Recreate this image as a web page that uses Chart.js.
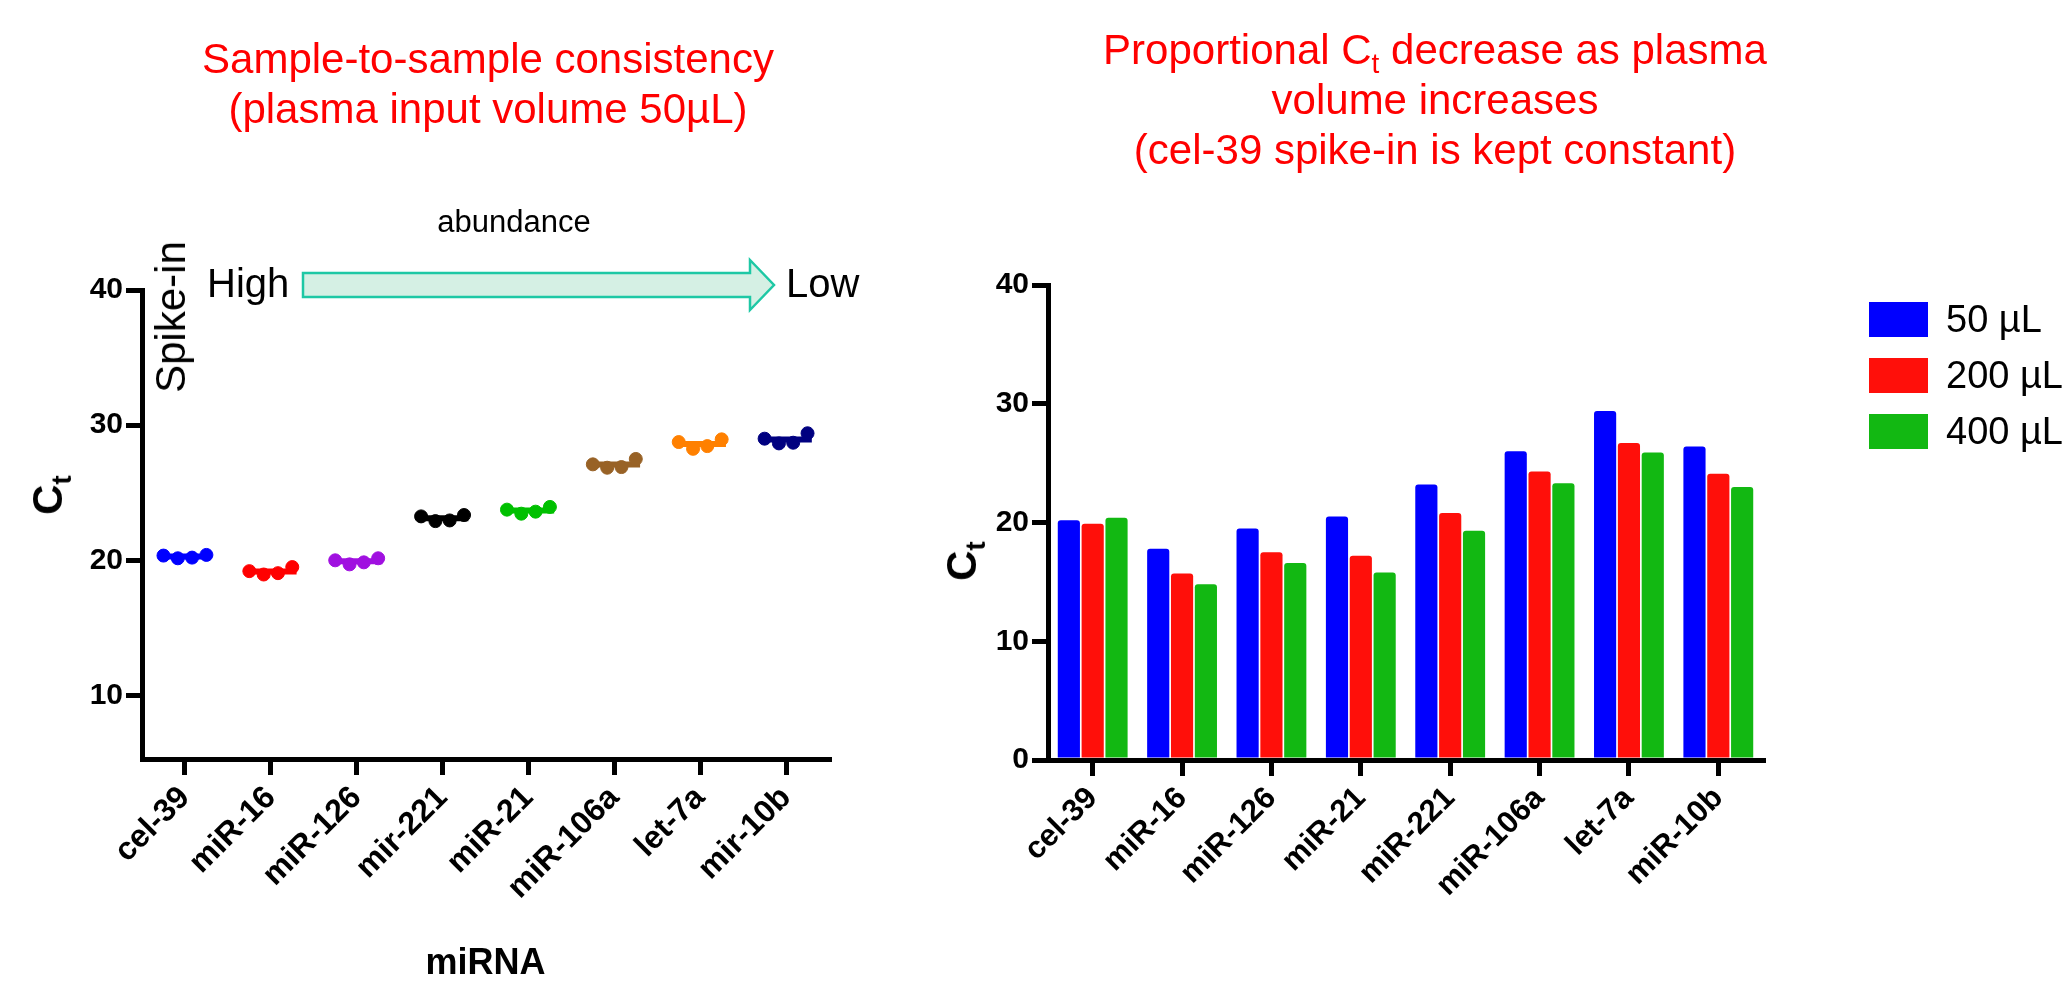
<!DOCTYPE html>
<html>
<head>
<meta charset="utf-8">
<script src="https://cdn.jsdelivr.net/npm/chart.js@4.4.0/dist/chart.umd.min.js"></script>
<style>
  html, body { margin: 0; padding: 0; background: #fff; overflow: hidden; }
  body { width: 2067px; height: 986px; position: relative; font-family: "Liberation Sans", Arial, sans-serif; color: #000; }
  .abs { position: absolute; white-space: nowrap; }
  #leftChart { position: absolute; left: 0; top: 0; }
  #rightChart { position: absolute; left: 900px; top: 0; }
  .title { color: #ff0000; font-size: 42px; line-height: 50px; text-align: center; transform: translateX(-50%); }
  .title sub { font-size: 28px; line-height: 0; }
  .ct { font-weight: bold; font-size: 42px; line-height: 42px; transform: translate(-50%, -50%) rotate(-90deg); }
  .ct sub { font-size: 28px; line-height: 0; }
  .big { font-size: 40px; line-height: 40px; }
  .legend-item { position: absolute; left: 1869px; height: 35px; }
  .legend-item .box { position: absolute; left: 0; top: 0; width: 59px; height: 35px; }
  .legend-item .txt { position: absolute; left: 77px; top: -2px; font-size: 38px; line-height: 38px; white-space: nowrap; }
</style>
</head>
<body>
<canvas id="leftChart" width="900" height="986"></canvas>
<canvas id="rightChart" width="1167" height="986"></canvas>

<div class="abs title" style="left:488px; top:34px;">Sample-to-sample consistency<br>(plasma input volume 50µL)</div>
<div class="abs title" style="left:1435px; top:25px;">Proportional C<sub>t</sub> decrease as plasma<br>volume increases<br>(cel-39 spike-in is kept constant)</div>

<div class="abs" style="left:514px; top:205px; font-size:31px; line-height:34px; transform:translateX(-50%);">abundance</div>
<div class="abs big" style="left:207px; top:263px;">High</div>
<div class="abs big" style="left:786px; top:263px;">Low</div>
<svg class="abs" style="left:290px; top:250px;" width="500" height="70">
  <polygon points="13,23 460,23 460,10 484,35 460,60 460,47 13,47" fill="#d5f0e4" stroke="#1ec8a5" stroke-width="2.5"/>
</svg>
<div class="abs" style="left:171px; top:317px; font-size:42px; line-height:42px; transform:translate(-50%,-50%) rotate(-90deg);">Spike-in</div>

<div class="abs ct" style="left:48px; top:495px;">C<sub>t</sub></div>
<div class="abs ct" style="left:962px; top:561px;">C<sub>t</sub></div>

<div id="legend"></div>

<script>
// --- DATA ---
// left panel: 4 replicate samples per miRNA (plasma 50 µL)
const leftCategories = ['cel-39', 'miR-16', 'miR-126', 'mir-221', 'miR-21', 'miR-106a', 'let-7a', 'mir-10b'];
const rep1 = [20.35, 19.2, 20.0, 23.25, 23.75, 27.1, 28.75, 29.0];
const rep2 = [20.15, 18.95, 19.7, 22.9, 23.45, 26.85, 28.25, 28.65];
const rep3 = [20.2, 19.05, 19.85, 22.95, 23.6, 26.9, 28.45, 28.7];
const rep4 = [20.4, 19.5, 20.15, 23.35, 23.95, 27.5, 28.95, 29.4];
const leftTicks = [10, 20, 30, 40];

// right panel: Ct per plasma volume
const rightCategories = ['cel-39', 'miR-16', 'miR-126', 'miR-21', 'miR-221', 'miR-106a', 'let-7a', 'miR-10b'];
const volumeLabels = ['50 µL', '200 µL', '400 µL'];
const vol50 = [20.2, 17.8, 19.5, 20.5, 23.2, 26.0, 29.4, 26.4];
const vol200 = [19.9, 15.7, 17.5, 17.2, 20.8, 24.3, 26.7, 24.1];
const vol400 = [20.4, 14.8, 16.6, 15.8, 19.3, 23.3, 25.9, 23.0];
const rightTicks = [0, 10, 20, 30, 40];

// --- STYLE ---
const leftColors = ['#0000ff', '#ff0000', '#a010e0', '#000000', '#00c000', '#986226', '#ff8000', '#000080'];
const volColors = ['#0000ff', '#ff0f0a', '#12b812'];
const jitter = [-0.25, -0.083, 0.083, 0.25];

Chart.defaults.font.family = '"Liberation Sans", Arial, sans-serif';
Chart.defaults.color = '#000';

function axisGrid() {
    return { drawOnChartArea: false, drawTicks: true, tickLength: 16, lineWidth: 5, color: '#000', offset: false };
}
const axisBorder = { display: true, color: '#000', width: 5 };

// --- LEFT: scatter with mean line ---
const reps = [rep1, rep2, rep3, rep4];
const leftDatasets = [];
leftCategories.forEach((name, i) => {
    const vals = reps.map(r => r[i]);
    const mean = vals.reduce((a, b) => a + b, 0) / vals.length;
    leftDatasets.push({
        type: 'line', label: name + ' mean',
        data: [{ x: i - 0.27, y: mean }, { x: i + 0.3, y: mean }],
        borderColor: leftColors[i], borderWidth: 6, pointRadius: 0, order: 2
    });
    leftDatasets.push({
        label: name,
        data: vals.map((v, j) => ({ x: i + jitter[j], y: v })),
        backgroundColor: leftColors[i], borderColor: leftColors[i],
        pointRadius: 6.5, pointHoverRadius: 6.5, order: 1
    });
});

new Chart(document.getElementById('leftChart'), {
    type: 'scatter',
    data: { datasets: leftDatasets },
    options: {
        responsive: false, animation: false,
        layout: { padding: { left: 0, top: 290, right: 71, bottom: 0 } },
        plugins: { legend: { display: false }, tooltip: { enabled: false } },
        scales: {
            x: {
                type: 'linear', min: -0.5, max: 7.5,
                afterBuildTicks: s => { s.ticks = leftCategories.map((c, i) => ({ value: i })); },
                afterFit: s => { s.height = 227; },
                grid: axisGrid(), border: axisBorder,
                ticks: { autoSkip: false, minRotation: 45, maxRotation: 45, padding: 4,
                         font: { size: 32, weight: 'bold' }, callback: v => leftCategories[v] },
                title: { display: true, text: 'miRNA', font: { size: 36, weight: 'bold' }, padding: { top: 0, bottom: 0 } }
            },
            y: {
                min: 5.3, max: 40,
                afterBuildTicks: s => { s.ticks = leftTicks.map(v => ({ value: v })); },
                afterFit: s => { s.width = 142; },
                grid: axisGrid(), border: axisBorder,
                ticks: { padding: 3, font: { size: 30, weight: 'bold' } }
            }
        }
    }
});

// --- RIGHT: grouped bars ---
const volData = [vol50, vol200, vol400];
const rightChart = new Chart(document.getElementById('rightChart'), {
    type: 'bar',
    data: {
        labels: rightCategories,
        datasets: volData.map((d, k) => ({
            label: volumeLabels[k], data: d,
            backgroundColor: volColors[k], borderWidth: 0,
            borderRadius: { topLeft: 3, topRight: 3 }, borderSkipped: 'bottom',
            categoryPercentage: 0.8, barPercentage: 0.93
        }))
    },
    options: {
        responsive: false, animation: false,
        layout: { padding: { left: 0, top: 285, right: 304, bottom: 0 } },
        plugins: { legend: { display: false }, tooltip: { enabled: false } },
        scales: {
            x: {
                afterFit: s => { s.height = 226; },
                grid: axisGrid(), border: axisBorder,
                ticks: { autoSkip: false, minRotation: 45, maxRotation: 45, padding: 4,
                         font: { size: 31, weight: 'bold' } }
            },
            y: {
                min: 0, max: 40,
                afterBuildTicks: s => { s.ticks = rightTicks.map(v => ({ value: v })); },
                afterFit: s => { s.width = 148; },
                grid: axisGrid(), border: axisBorder,
                ticks: { padding: 3, font: { size: 30, weight: 'bold' } }
            }
        }
    }
});

// legend built from the bar datasets
const legendEl = document.getElementById('legend');
rightChart.data.datasets.forEach((ds, k) => {
    const item = document.createElement('div');
    item.className = 'legend-item';
    item.style.top = (302 + k * 56) + 'px';
    item.innerHTML = '<div class="box" style="background:' + ds.backgroundColor + '"></div><div class="txt">' + ds.label + '</div>';
    legendEl.appendChild(item);
});
</script>
</body>
</html>
